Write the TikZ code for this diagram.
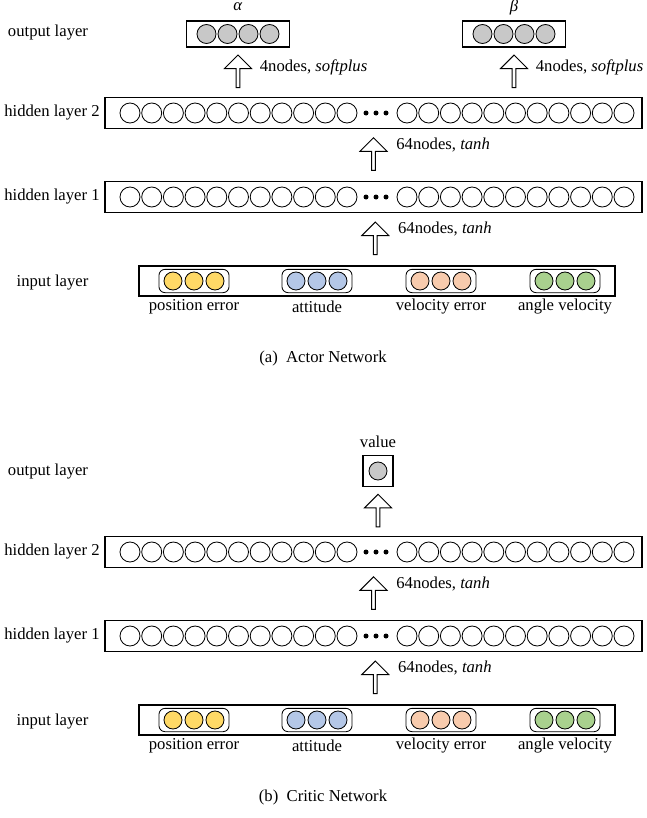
\documentclass[tikz,border=0pt]{standalone}
\usepackage{fontspec}
\setmainfont{Liberation Serif}
\usetikzlibrary{calc,shapes.arrows}

\definecolor{posyellow}{HTML}{FFD966}
\definecolor{attblue}{HTML}{B4C7E7}
\definecolor{velorange}{HTML}{F8CBAD}
\definecolor{anggreen}{HTML}{A9D18E}
\definecolor{outgray}{HTML}{C8C8C8}

\begin{document}
\begin{tikzpicture}[x=0.6pt,y=-0.6pt,
    layerbox/.style={draw,line width=0.9pt,inner sep=0pt},
    unit/.style={circle,draw,line width=0.5pt,minimum size=12pt,inner sep=0pt},
    inunit/.style={circle,draw,line width=0.5pt,minimum size=10.8pt,inner sep=0pt,fill=#1},
    outunit/.style={circle,draw,line width=0.5pt,minimum size=11.4pt,inner sep=0pt,fill=outgray},
    group/.style={draw,rounded corners=3.6pt,line width=0.5pt,minimum width=42pt,minimum height=14pt,inner sep=0pt},
    dot/.style={circle,fill,minimum size=3pt,inner sep=0pt},
    fatarrow/.style={single arrow,draw,line width=0.6pt,shape border rotate=90,
        minimum height=19.5pt,minimum width=16.2pt,single arrow head extend=1.8pt,inner sep=0pt}]
    \useasboundingbox (0,0) rectangle (647,818);

    % shared part of both networks: input and hidden layers
    \foreach \net/\dy in {a/0,c/439} {
        \foreach \h/\yy in {2/113,1/197} {
            \node[layerbox,minimum width=322.2pt,minimum height=18.6pt] (h\h\net) at (373.5,\yy+\dy) {};
            \foreach \k in {0,...,10} {
                \node[unit] (h\h\net l\k) at (130+21.7*\k,\yy+\dy) {};
                \node[unit] (h\h\net r\k) at (407+21.7*\k,\yy+\dy) {};
            }
            \foreach \d in {0,1,2}
                \node[dot] (h\h\net d\d) at (366+10*\d,\yy+\dy) {};
            \node (labh\h\net) at (52,\yy+\dy) {hidden layer \h};
        }
        \node[layerbox,minimum width=285.6pt,minimum height=18pt] (in\net) at (377,281+\dy) {};
        \foreach \g/\gx/\col/\txt in {pos/194/posyellow/position error,att/317/attblue/attitude,
                                      vel/441/velorange/velocity error,ang/565/anggreen/angle velocity} {
            \node[group] (\g\net) at (\gx,281+\dy) {};
            \foreach \j in {1,2,3}
                \node[inunit=\col] (\g\net\j) at (\gx+21*\j-42,281+\dy) {};
            \node (\g\net lab) at (\gx,307+\dy) {\txt};
        }
        \node (labin\net) at (52.5,283+\dy) {input layer};
        \node (labout\net) at (48,33+\dy) {output layer};
        % block arrows between the layers
        \node[fatarrow] (ar1\net) at ($(in\net.north)!0.5!(h1\net.south)$) {};
        \node[fatarrow] (ar2\net) at ($(h1\net.north)!0.5!(h2\net.south)$) {};
        \node[anchor=west] (t1\net) at ($(ar1\net.center)+(17,-10)$) {64nodes, \textit{tanh}};
        \node[anchor=west] (t2\net) at ($(ar2\net.center)+(17,-10)$) {64nodes, \textit{tanh}};
    }

    % actor outputs
    \foreach \o/\ox/\sym in {al/238/α,be/514/β} {
        \node[layerbox,minimum width=61.8pt,minimum height=15.6pt] (o\o) at (\ox,34) {};
        \foreach \j in {1,2,3,4}
            \node[outunit] (o\o\j) at (\ox+21*\j-52.5,34) {};
        \node (s\o) at (\ox,7) {\textit{\sym}};
        \node[fatarrow] (aro\o) at ($(h2a.north -| o\o.south)!0.5!(o\o.south)$) {};
        \node[anchor=west] (to\o) at ($(aro\o.center)+(16,-5)$) {4nodes, \textit{softplus}};
    }
    \node (capa) at (323,358) {(a)\enspace Actor Network};

    % critic output
    \node[layerbox,minimum width=18pt,minimum height=18.6pt] (val) at (378,471) {};
    \node[outunit,minimum size=10.8pt] (valu) at (val.center) {};
    \node (vallab) at (378,442) {value};
    \node[fatarrow] (arval) at ($(h2c.north -| val.south)!0.5!(val.south)$) {};
    \node (capc) at (323,797) {(b)\enspace Critic Network};
\end{tikzpicture}
\end{document}
